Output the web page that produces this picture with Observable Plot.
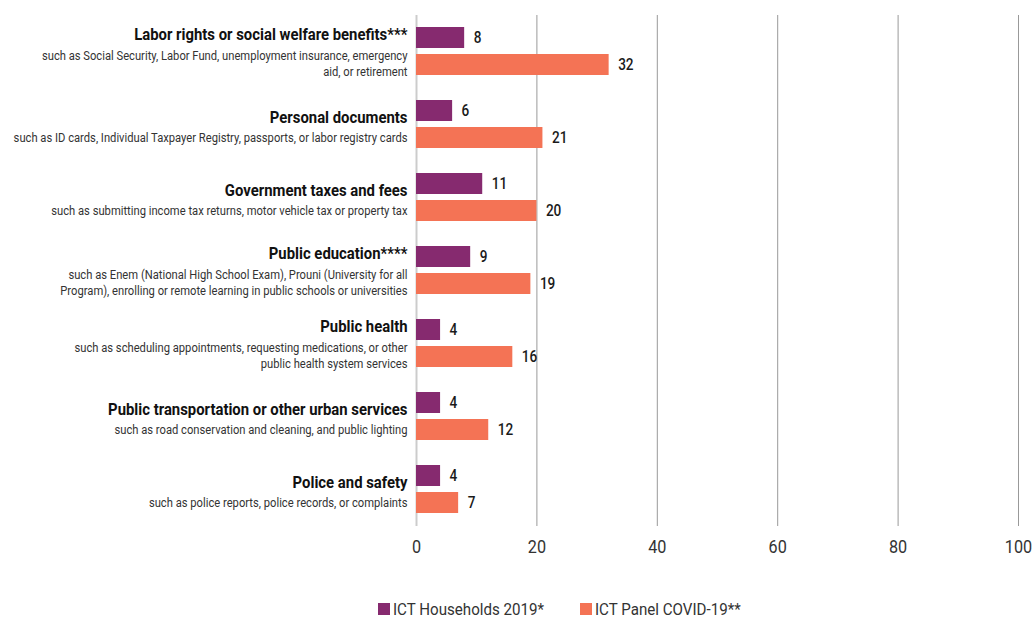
<!DOCTYPE html>
<html>
<head>
<meta charset="utf-8">
<script src="https://cdn.jsdelivr.net/npm/d3@7"></script>
<script src="https://cdn.jsdelivr.net/npm/@observablehq/plot@0.6"></script>
<style>
  html, body { margin: 0; padding: 0; background: #fff; }
  body { width: 1034px; height: 618px; overflow: hidden; position: relative; font-family: Roboto, "DejaVu Sans", sans-serif; }
  #chart svg { display: block; }
  .item { position: absolute; top: 599px; display: flex; align-items: center; font-size: 17px; color: #333; white-space: nowrap; }
  .item .sw { width: 12px; height: 12px; margin-right: 3px; flex: none; }
  .item span { display: inline-block; transform-origin: left center; transform: scaleX(0.89); }
</style>
</head>
<body>
<div id="chart"></div>
<div id="legend"></div>
<script>
const categories = [
  "Labor rights or social welfare benefits***",
  "Personal documents",
  "Government taxes and fees",
  "Public education****",
  "Public health",
  "Public transportation or other urban services",
  "Police and safety"
];
const descriptions = [
  "such as Social Security, Labor Fund, unemployment insurance, emergency\naid, or retirement",
  "such as ID cards, Individual Taxpayer Registry, passports, or labor registry cards",
  "such as submitting income tax returns, motor vehicle tax or property tax",
  "such as Enem (National High School Exam), Prouni (University for all\nProgram), enrolling or remote learning in public schools or universities",
  "such as scheduling appointments, requesting medications, or other\npublic health system services",
  "such as road conservation and cleaning, and public lighting",
  "such as police reports, police records, or complaints"
];
const seriesNames = ["ICT Households 2019*", "ICT Panel COVID-19**"];
const households2019 = [8, 6, 11, 9, 4, 4, 4];
const panelCovid = [32, 21, 20, 19, 16, 12, 7];
const xTicks = [0, 20, 40, 60, 80, 100];
const colors = ["#862a6f", "#f47355"];

const bars = [];
categories.forEach((c, i) => {
  bars.push({category: c, series: seriesNames[0], value: households2019[i]});
  bars.push({category: c, series: seriesNames[1], value: panelCovid[i]});
});
const labels = categories.map((c, i) => ({
  category: c, desc: descriptions[i], lines: descriptions[i].split("\n").length
}));
const twoLine = labels.filter(d => d.lines > 1);
const oneLine = labels.filter(d => d.lines === 1);

const font = "Roboto, DejaVu Sans, sans-serif";

const chart = Plot.plot({
  width: 1034,
  height: 570,
  marginLeft: 416,
  marginRight: 16,
  marginTop: 12,
  marginBottom: 41,
  style: {fontFamily: font, fontSize: "18px", color: "#333", background: "#fff"},
  fy: {domain: categories, padding: 0, axis: null},
  y: {domain: seriesNames, paddingInner: 0.214, paddingOuter: 0.426, axis: null},
  x: {domain: [0, 100], ticks: xTicks, label: null, tickSize: 0, tickPadding: 14},
  color: {domain: seriesNames, range: colors},
  marks: [
    Plot.ruleX(xTicks.filter(t => t > 0), {stroke: "#999", strokeWidth: 1}),
    Plot.ruleX([0], {stroke: "#ccc", strokeWidth: 2}),
    Plot.barX(bars, {fy: "category", y: "series", x: "value", fill: "series"}),
    Plot.text(bars, {fy: "category", y: "series", x: "value", text: d => String(d.value),
      textAnchor: "start", dx: 9, fontSize: 17, fontWeight: 500, fill: "#1a1a1a", ariaDescription: "values"}),
    Plot.text(twoLine, {fy: "category", text: "category", frameAnchor: "left", textAnchor: "end",
      dx: -9, dy: -17, fontSize: 17, fontWeight: "bold", fill: "#111", ariaDescription: "titles"}),
    Plot.text(twoLine, {fy: "category", text: "desc", frameAnchor: "left", textAnchor: "end",
      dx: -9, dy: 11, fontSize: 13.5, lineHeight: 1.2, fill: "#333", ariaDescription: "descs"}),
    Plot.text(oneLine, {fy: "category", text: "category", frameAnchor: "left", textAnchor: "end",
      dx: -9, dy: -7, fontSize: 17, fontWeight: "bold", fill: "#111", ariaDescription: "titles"}),
    Plot.text(oneLine, {fy: "category", text: "desc", frameAnchor: "left", textAnchor: "end",
      dx: -9, dy: 13, fontSize: 13.5, fill: "#333", ariaDescription: "descs"})
  ]
});
document.getElementById("chart").append(chart);

// condense glyphs horizontally to mimic the narrow typeface of the reference
const squeeze = [
  ['g[aria-description="titles"] text', 0.875],
  ['g[aria-description="descs"] text', 0.83],
  ['g[aria-description="values"] text', 0.8],
  ['g[aria-label="x-axis tick label"] text', 0.9]
];
squeeze.forEach(([sel, k]) => {
  chart.querySelectorAll(sel).forEach(t => {
    const tr = t.getAttribute("transform") || "";
    t.setAttribute("transform", `${tr} scale(${k},1)`);
  });
});
chart.querySelectorAll('g[aria-label="x-axis tick label"]').forEach(g => g.setAttribute("fill", "#333"));

const legend = document.getElementById("legend");
const legendLeft = [378, 580];
seriesNames.forEach((s, i) => {
  const item = document.createElement("div");
  item.className = "item";
  item.style.left = legendLeft[i] + "px";
  const sw = document.createElement("div");
  sw.className = "sw";
  sw.style.background = colors[i];
  const t = document.createElement("span");
  t.textContent = s;
  item.append(sw, t);
  legend.append(item);
});
</script>
</body>
</html>
